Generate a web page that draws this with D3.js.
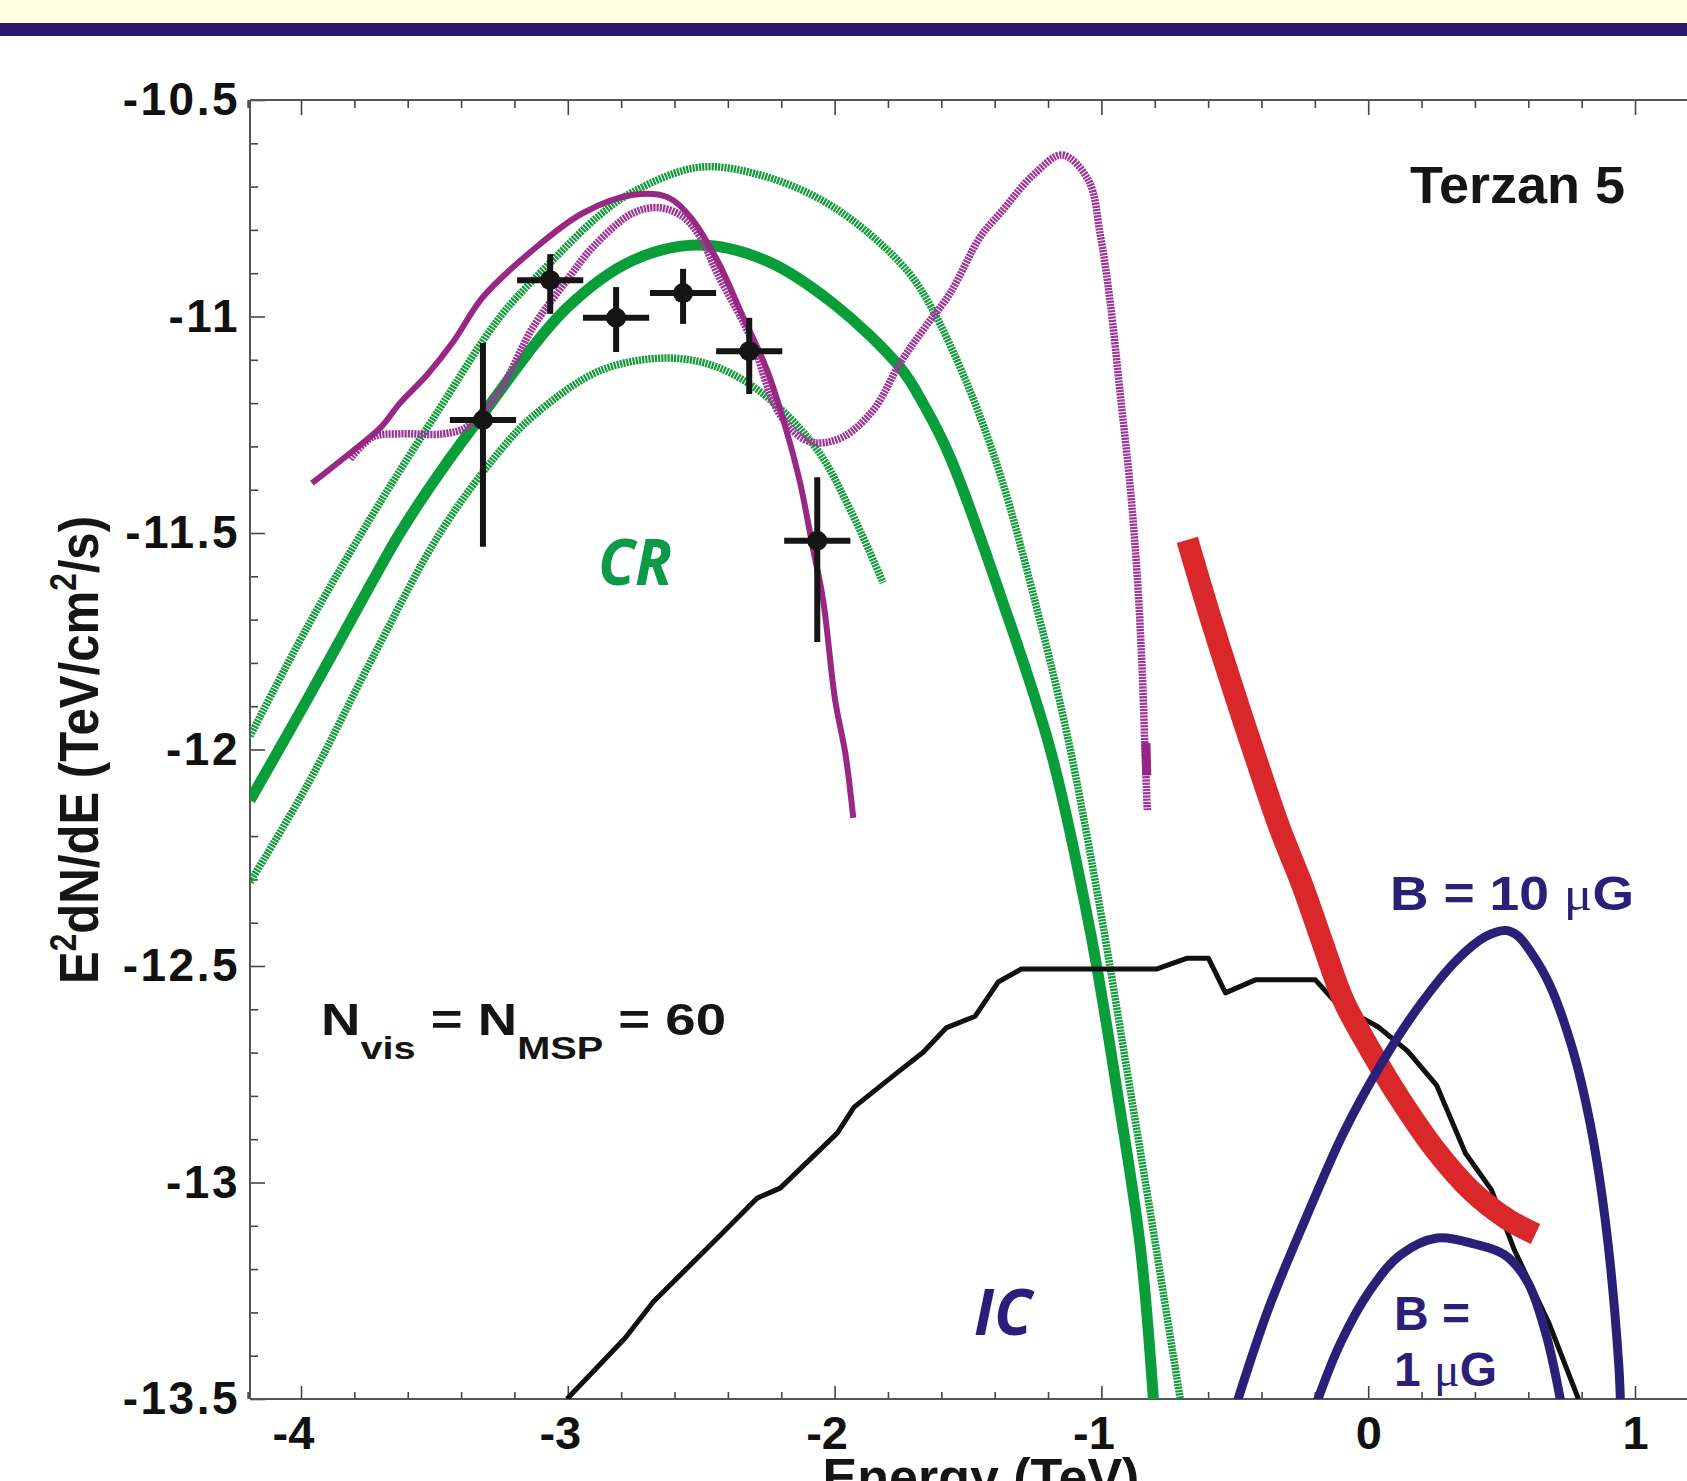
<!DOCTYPE html>
<html>
<head>
<meta charset="utf-8">
<script src="https://cdn.jsdelivr.net/npm/d3@7"></script>
<style>
  html, body { margin: 0; padding: 0; background: #fff; overflow: hidden; }
  svg { display: block; }
  text { font-family: "Liberation Sans", Arial, Helvetica, sans-serif; font-weight: bold; }
</style>
</head>
<body>
<script>
// tick labels
const xMajor  = [-4, -3, -2, -1, 0, 1]
const xLabels = ['-4', '-3', '-2', '-1', '0', '1']
const yMajor  = [-10.5, -11, -11.5, -12, -12.5, -13, -13.5]
const yLabels = ['-10.5', '-11', '-11.5', '-12', '-12.5', '-13', '-13.5']

// CR model (best fit and band), log10 E vs log10 E^2dN/dE
const crBest = [[-4.191,-12.117],[-3.978,-11.886],[-3.730,-11.609],[-3.629,-11.500],[-3.479,-11.360],
  [-3.318,-11.225],[-3.003,-10.980],[-2.755,-10.870],[-2.504,-10.835],[-2.253,-10.872],[-2.005,-10.970],
  [-1.754,-11.118],[-1.660,-11.210],[-1.567,-11.325],[-1.379,-11.643],[-1.192,-11.999],[-1.042,-12.419],
  [-0.940,-12.793],[-0.854,-13.149],[-0.805,-13.502]]
const crHigh = [[-4.191,-11.969],[-3.978,-11.719],[-3.730,-11.456],[-3.479,-11.211],[-3.254,-11.001],
  [-3.066,-10.876],[-2.879,-10.765],[-2.755,-10.712],[-2.504,-10.655],[-2.253,-10.678],[-2.005,-10.747],
  [-1.754,-10.876],[-1.653,-10.962],[-1.503,-11.156],[-1.379,-11.366],[-1.255,-11.643],[-1.128,-11.967],
  [-1.004,-12.371],[-0.903,-12.745],[-0.817,-13.068],[-0.704,-13.502]]
const crLow = [[-4.191,-12.306],[-3.978,-12.084],[-3.730,-11.786],[-3.479,-11.500],[-3.254,-11.310],
  [-3.130,-11.230],[-2.879,-11.125],[-2.628,-11.096],[-2.440,-11.117],[-2.253,-11.186],[-2.065,-11.308],
  [-1.941,-11.447],[-1.818,-11.615]]

// magenta curves
const msSolid = [[-3.959,-11.385],[-3.805,-11.310],[-3.704,-11.258],[-3.629,-11.200],[-3.528,-11.135],
  [-3.430,-11.059],[-3.318,-10.955],[-3.130,-10.846],[-2.943,-10.761],[-2.755,-10.719],[-2.628,-10.724],
  [-2.541,-10.770],[-2.440,-10.870],[-2.343,-11.001],[-2.253,-11.124],[-2.178,-11.269],[-2.129,-11.385],
  [-2.080,-11.539],[-2.043,-11.655],[-1.998,-11.886],[-1.960,-12.008],[-1.930,-12.158]]
const msDotted = [[-3.816,-11.329],[-3.730,-11.278],[-3.629,-11.271],[-3.468,-11.271],[-3.378,-11.255],
  [-3.254,-11.170],[-3.130,-11.024],[-3.003,-10.916],[-2.905,-10.839],[-2.755,-10.761],[-2.654,-10.749],
  [-2.568,-10.770],[-2.504,-10.816],[-2.440,-10.900],[-2.316,-11.047],[-2.215,-11.216],[-2.129,-11.278],
  [-2.065,-11.292],[-1.968,-11.278],[-1.855,-11.216],[-1.754,-11.107],[-1.660,-11.024],[-1.567,-10.946],
  [-1.454,-10.816],[-1.379,-10.761],[-1.255,-10.673],[-1.147,-10.627],[-1.049,-10.685],[-1.004,-10.812],
  [-0.967,-10.967],[-0.929,-11.181],[-0.892,-11.394],[-0.865,-11.606],[-0.847,-11.819],[-0.835,-12.031],
  [-0.828,-12.140]]
const msDottedEnd = [[-0.833,-11.985],[-0.830,-12.060]]

// IC
const icLine = [[-3.003,-13.500],[-2.785,-13.359],[-2.680,-13.276],[-2.421,-13.117],[-2.290,-13.036],
  [-2.204,-13.013],[-1.990,-12.886],[-1.927,-12.826],[-1.777,-12.752],[-1.668,-12.699],[-1.582,-12.643],
  [-1.473,-12.616],[-1.387,-12.537],[-1.300,-12.507],[-0.794,-12.507],[-0.678,-12.482],[-0.599,-12.482],
  [-0.535,-12.562],[-0.423,-12.532],[-0.198,-12.532],[-0.116,-12.588],[0.038,-12.641],[0.147,-12.696],
  [0.256,-12.775],[0.364,-12.932],[0.462,-13.017],[0.548,-13.156],[0.679,-13.327],[0.788,-13.500]]

const redBand = [[-0.678,-11.516],[-0.592,-11.694],[-0.505,-11.863],[-0.404,-12.052],[-0.329,-12.186],
  [-0.243,-12.320],[-0.168,-12.452],[-0.093,-12.579],[0.008,-12.694],[0.121,-12.809],[0.252,-12.925],
  [0.383,-13.017],[0.515,-13.082],[0.627,-13.119]]

const sync10 = [[-0.498,-13.520],[-0.374,-13.292],[-0.232,-13.080],[-0.093,-12.886],[0.049,-12.726],
  [0.188,-12.595],[0.331,-12.487],[0.440,-12.432],[0.516,-12.418],[0.560,-12.430],[0.612,-12.470],
  [0.679,-12.542],[0.766,-12.692],[0.833,-12.867],[0.889,-13.089],[0.938,-13.410],[0.946,-13.520]]
const sync1 = [[-0.200,-13.520],[-0.104,-13.371],[0.008,-13.248],[0.121,-13.167],[0.259,-13.128],
  [0.398,-13.142],[0.511,-13.167],[0.597,-13.229],[0.668,-13.354],[0.726,-13.520]]

// H.E.S.S. points
const ptE    = [-3.318, -3.066, -2.819, -2.568, -2.320, -2.065]
const ptF    = [-11.239, -10.916, -11.003, -10.946, -11.080, -11.518]
const ptHi   = [-11.061, -10.856, -10.932, -10.890, -11.003, -11.371]
const ptLo   = [-11.532, -10.994, -11.082, -11.017, -11.179, -11.752]
const ptXerr = [0.124, 0.124, 0.124, 0.124, 0.124, 0.124]

const W = 1687, H = 1481
const x = d3.scaleLinear().domain([-4, 1]).range([301, 1635])
const y = d3.scaleLinear().domain([-10.5, -13.5]).range([100, 1399])
const plotLeft = 250, plotTop = y(-10.5), plotBottom = y(-13.5)

const svg = d3.select('body').append('svg').attr('width', W).attr('height', H)

// slide header
svg.append('rect').attr('x', 0).attr('y', 0).attr('width', W).attr('height', 23).attr('fill', '#ffffe1')
svg.append('rect').attr('x', 0).attr('y', 23).attr('width', W).attr('height', 13).attr('fill', '#2b1a6e')

svg.append('clipPath').attr('id', 'plot')
  .append('rect').attr('x', plotLeft).attr('y', plotTop)
  .attr('width', W - plotLeft).attr('height', plotBottom - plotTop)

// minor ticks
const xMinor = d3.range(-42, 13, 2).map(d => d / 10).filter(d => !xMajor.includes(d))
const yMinor = d3.range(-105, -136, -1).map(d => d / 10).filter(d => !yMajor.includes(d))

function styleAxis (g) {
  g.select('.domain').remove()
  g.selectAll('line').attr('stroke', '#444').attr('stroke-width', 1.6)
  g.attr('font-family', null).attr('font-size', null)
  g.selectAll('text').attr('fill', '#111')
}

svg.append('g').attr('transform', `translate(0,${plotBottom})`)
  .call(d3.axisBottom(x).tickValues(xMajor).tickFormat((d, i) => xLabels[i])
    .tickSizeInner(-13).tickSizeOuter(0).tickPadding(17))
  .call(styleAxis)
  .selectAll('text').attr('font-size', 47).attr('dx', d => d < 0 ? -8 : 0)
svg.append('g').attr('transform', `translate(0,${plotBottom})`)
  .call(d3.axisBottom(x).tickValues(xMinor).tickFormat('').tickSizeInner(-7).tickSizeOuter(0))
  .call(styleAxis)

svg.append('g').attr('transform', `translate(0,${plotTop})`)
  .call(d3.axisTop(x).tickValues(xMajor).tickFormat('').tickSizeInner(-15).tickSizeOuter(0))
  .call(styleAxis)
svg.append('g').attr('transform', `translate(0,${plotTop})`)
  .call(d3.axisTop(x).tickValues(xMinor).tickFormat('').tickSizeInner(-8).tickSizeOuter(0))
  .call(styleAxis)

svg.append('g').attr('transform', `translate(${plotLeft},0)`)
  .call(d3.axisLeft(y).tickValues(yMajor).tickFormat((d, i) => yLabels[i])
    .tickSizeInner(-15).tickSizeOuter(0).tickPadding(10))
  .call(styleAxis)
  .selectAll('text').attr('font-size', 46).attr('letter-spacing', 2.5)
svg.append('g').attr('transform', `translate(${plotLeft},0)`)
  .call(d3.axisLeft(y).tickValues(yMinor).tickFormat('').tickSizeInner(-8).tickSizeOuter(0))
  .call(styleAxis)

// frame
const frame = svg.append('g').attr('stroke', '#555').attr('stroke-width', 2)
frame.append('line').attr('x1', plotLeft).attr('x2', W).attr('y1', plotTop).attr('y2', plotTop)
frame.append('line').attr('x1', plotLeft).attr('x2', W).attr('y1', plotBottom).attr('y2', plotBottom)
frame.append('line').attr('x1', plotLeft).attr('x2', plotLeft).attr('y1', plotTop).attr('y2', plotBottom)

const plot = svg.append('g').attr('clip-path', 'url(#plot)')
const smooth = d3.line().x(d => x(d[0])).y(d => y(d[1])).curve(d3.curveCatmullRom.alpha(0.5))
const straight = d3.line().x(d => x(d[0])).y(d => y(d[1]))

function curve (data, gen, color, width, dash) {
  plot.append('path').datum(data).attr('d', gen)
    .attr('fill', 'none').attr('stroke', color).attr('stroke-width', width)
    .attr('stroke-dasharray', dash || null).attr('stroke-linejoin', 'round')
}

curve(crHigh, smooth, '#149c3c', 7.5, '2.2 1')
curve(crLow, smooth, '#149c3c', 7.5, '2.2 1')
curve(crBest, smooth, '#0a9e3a', 11)
curve(msDotted, smooth, '#9d3596', 7.5, '2.2 1')
curve(msDottedEnd, straight, '#962583', 9)
curve(msSolid, smooth, '#982884', 6)
curve(icLine, straight, '#111', 5)
curve(redBand, smooth, '#d9272a', 22)
curve(sync10, smooth, '#2b2077', 9)
curve(sync1, smooth, '#2b2077', 9)

// data points
const pts = plot.append('g').attr('stroke', '#151515').attr('stroke-width', 6).attr('fill', '#151515')
pts.selectAll('line.ey').data(ptE).join('line').attr('class', 'ey')
  .attr('x1', d => x(d)).attr('x2', d => x(d))
  .attr('y1', (d, i) => y(ptHi[i])).attr('y2', (d, i) => y(ptLo[i]))
pts.selectAll('line.ex').data(ptE).join('line').attr('class', 'ex')
  .attr('x1', (d, i) => x(d - ptXerr[i])).attr('x2', (d, i) => x(d + ptXerr[i]))
  .attr('y1', (d, i) => y(ptF[i])).attr('y2', (d, i) => y(ptF[i]))
pts.selectAll('circle').data(ptE).join('circle')
  .attr('cx', d => x(d)).attr('cy', (d, i) => y(ptF[i])).attr('r', 10).attr('stroke', 'none')

// annotations
svg.append('text').attr('x', 1410).attr('y', 203).attr('font-size', 51).attr('fill', '#151515')
  .attr('textLength', 215).attr('lengthAdjust', 'spacingAndGlyphs').text('Terzan 5')

svg.append('text').attr('x', 598).attr('y', 585).attr('font-size', 64).attr('fill', '#0a9a48')
  .attr('font-style', 'italic').style('font-family', '"Open Sans", sans-serif')
  .attr('textLength', 74).attr('lengthAdjust', 'spacingAndGlyphs').text('CR')
svg.append('text').attr('x', 974).attr('y', 1335).attr('font-size', 64).attr('fill', '#2b1e7a')
  .attr('font-style', 'italic').style('font-family', '"Open Sans", sans-serif')
  .attr('textLength', 58).attr('lengthAdjust', 'spacingAndGlyphs').text('IC')

const nv = svg.append('text').attr('x', 321).attr('y', 1035).attr('font-size', 44).attr('fill', '#151515')
  .attr('textLength', 405).attr('lengthAdjust', 'spacingAndGlyphs')
nv.append('tspan').text('N')
nv.append('tspan').attr('font-size', 32).attr('dy', 24).text('vis')
nv.append('tspan').attr('dy', -24).text(' = N')
nv.append('tspan').attr('font-size', 32).attr('dy', 24).text('MSP')
nv.append('tspan').attr('dy', -24).text(' = 60')

function bLabel (xx, yy, parts, len) {
  const t = svg.append('text').attr('x', xx).attr('y', yy).attr('font-size', 48).attr('fill', '#2b2077')
  if (len) t.attr('textLength', len).attr('lengthAdjust', 'spacingAndGlyphs')
  parts.forEach(p => {
    const s = t.append('tspan').text(p)
    if (p === '\u03bc') s.style('font-family', '"Liberation Serif", serif').attr('font-weight', 'normal')
  })
}
bLabel(1390, 910, ['B = 10 ', '\u03bc', 'G'], 244)
bLabel(1394, 1330, ['B ='])
bLabel(1394, 1386, ['1 ', '\u03bc', 'G'])

// axis titles
svg.append('text').attr('x', 981).attr('y', 1495).attr('font-size', 52).attr('fill', '#151515')
  .attr('text-anchor', 'middle').text('Energy (TeV)')

const yt = svg.append('text').attr('transform', 'translate(98,750) rotate(-90)')
  .attr('font-size', 56).attr('fill', '#151515').attr('text-anchor', 'middle')
  .attr('textLength', 468).attr('lengthAdjust', 'spacingAndGlyphs')
yt.append('tspan').text('E')
yt.append('tspan').attr('font-size', 36).attr('dy', -22).text('2')
yt.append('tspan').attr('dy', 22).text('dN/dE (TeV/cm')
yt.append('tspan').attr('font-size', 36).attr('dy', -22).text('2')
yt.append('tspan').attr('dy', 22).text('/s)')
</script>
</body>
</html>
